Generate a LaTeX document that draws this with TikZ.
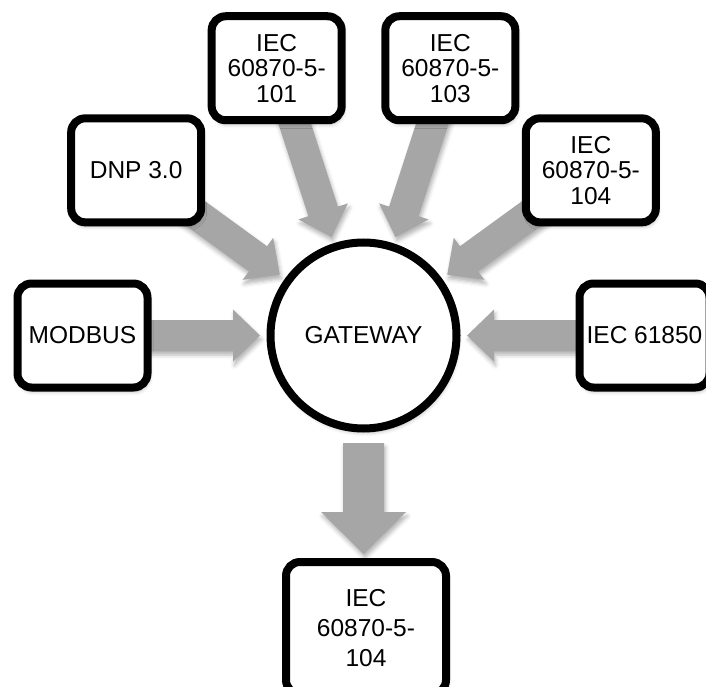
\documentclass[tikz,border=0pt]{standalone}
\usepackage{fontspec}
\setmainfont{Liberation Sans}
\usetikzlibrary{calc,backgrounds,shadows.blur}
\definecolor{arrowgray}{RGB}{166,166,166}
\tikzset{
  softshadow/.style={blur shadow={shadow xshift=1.5pt, shadow yshift=-4pt, shadow opacity=30, shadow blur radius=4pt}},
  proto/.style={draw=black, fill=white, line width=8pt, rounded corners=14pt,
    minimum width=130pt, minimum height=104pt, align=center, inner sep=0pt,
    font=\fontsize{24.5}{25.5}\selectfont, softshadow},
  outbox/.style={proto, minimum width=160pt, minimum height=132pt,
    font=\fontsize{24.5}{30}\selectfont},
  hub/.style={circle, draw=black, fill=white, line width=8pt, minimum size=186pt,
    inner sep=0pt, font=\fontsize{24.5}{25.5}\selectfont, softshadow},
  blockarrow/.style={fill=arrowgray, draw=none, softshadow}
}
% #1 hub node, #2 angle, #3 r tip, #4 r head base, #5 r tail, #6 head half width, #7 shaft half width
\newcommand{\radarrow}[7]{%
  \path[blockarrow]
    ($(#1)+(#2:#3pt)$)
    -- ($(#1)+(#2:#4pt)+(#2+90:#6pt)$)
    -- ($(#1)+(#2:#4pt)+(#2+90:#7pt)$)
    -- ($(#1)+(#2:#5pt)+(#2+90:#7pt)$)
    -- ($(#1)+(#2:#5pt)+(#2-90:#7pt)$)
    -- ($(#1)+(#2:#4pt)+(#2-90:#7pt)$)
    -- ($(#1)+(#2:#4pt)+(#2-90:#6pt)$)
    -- cycle;}
\begin{document}
\begin{tikzpicture}[x=1pt,y=1pt]
  \useasboundingbox (0,0) rectangle (706,-687);
  \node[hub] (gw) at (363.5,-335.5) {GATEWAY};
  \node[proto] (modbus) at ($(gw)+(180:281pt)$) {MODBUS};
  \node[proto] (dnp)    at ($(gw)+(144:281pt)$) {DNP 3.0};
  \node[proto] (iec101) at ($(gw)+(108:281pt)$) {IEC\\60870-5-\\101};
  \node[proto] (iec103) at ($(gw)+(72:281pt)$)  {IEC\\60870-5-\\103};
  \node[proto] (iec104) at ($(gw)+(36:281pt)$)  {IEC\\60870-5-\\104};
  \node[proto] (iec61850) at ($(gw)+(0:281pt)$) {IEC 61850};
  \node[outbox] (out) at (366,-628) {IEC\\60870-5-\\104};
  \begin{pgfonlayer}{background}
    \radarrow{gw}{180}{103.5}{130.5}{235}{26}{15.5}
    \radarrow{gw}{144}{103.5}{130.5}{235}{26}{15.5}
    \radarrow{gw}{108}{103.5}{130.5}{235}{26}{15.5}
    \radarrow{gw}{72}{103.5}{130.5}{235}{26}{15.5}
    \radarrow{gw}{36}{103.5}{130.5}{235}{26}{15.5}
    \radarrow{gw}{0}{103.5}{130.5}{235}{26}{15.5}
    \radarrow{gw}{270}{218.5}{176.5}{107.5}{42.5}{20.5}
  \end{pgfonlayer}
\end{tikzpicture}
\end{document}
